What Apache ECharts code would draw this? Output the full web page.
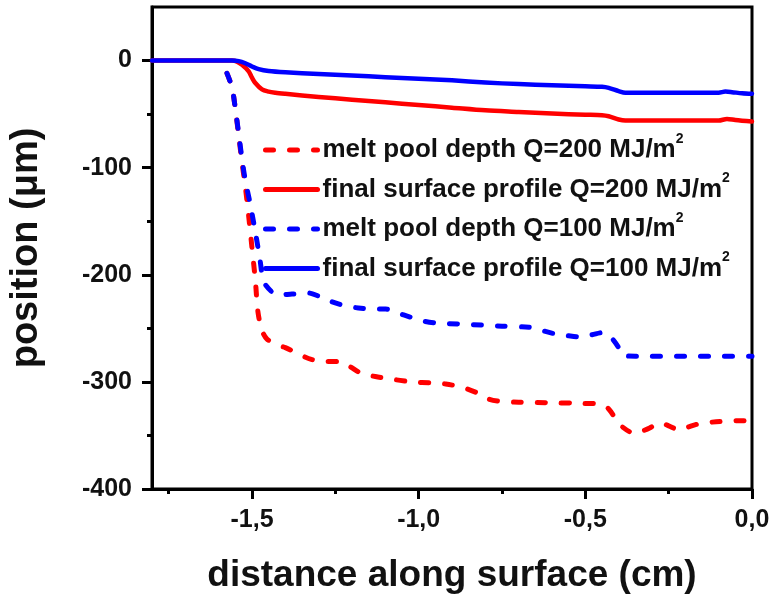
<!DOCTYPE html>
<html>
<head>
<meta charset="utf-8">
<script src="https://cdn.jsdelivr.net/npm/echarts@6/dist/echarts.min.js"></script>
<style>
  html, body { margin: 0; padding: 0; background: #fff; }
  #chart { width: 773px; height: 596px; }
</style>
</head>
<body>
<div id="chart"></div>
<script>
// Melt pool depth (dashed) and final surface profile (solid), distance in cm, position in µm
const melt200X = [-1.575, -1.56, -1.55, -1.54, -1.53, -1.52, -1.51, -1.50, -1.49, -1.482, -1.47, -1.455, -1.42, -1.40, -1.36, -1.322, -1.28, -1.241, -1.21, -1.172, -1.13, -1.09, -1.021, -0.96, -0.919, -0.87, -0.819, -0.79, -0.759, -0.70, -0.60, -0.518, -0.449, -0.428, -0.41, -0.389, -0.352, -0.33, -0.307, -0.277, -0.25, -0.217, -0.19, -0.157, -0.096, 0];
const melt200Y = [-12, -25, -45, -70, -95, -118, -145, -175, -205, -235, -252, -260, -266, -268, -274, -279, -281, -281, -285, -292, -295, -297, -300, -301, -302, -305, -311, -316, -318, -319, -319.5, -320, -321, -326, -334, -342, -348, -346, -343, -338, -341, -345, -342, -339, -337, -336];

const surf200X = [-1.8, -1.56, -1.545, -1.53, -1.51, -1.50, -1.49, -1.47, -1.45, -1.43, -1.40, -1.30, -1.20, -1.10, -1.00, -0.90, -0.80, -0.70, -0.60, -0.50, -0.45, -0.43, -0.40, -0.38, -0.20, -0.10, -0.075, -0.05, 0];
const surf200Y = [0, 0, -1, -4, -10, -16, -21, -27, -29, -30, -31, -34, -36.5, -39, -41.5, -44, -46.5, -48, -49.5, -50.5, -51, -52, -55, -56, -56, -56, -54.5, -55.5, -57];

const melt100X = [-1.575, -1.56, -1.55, -1.54, -1.53, -1.52, -1.506, -1.49, -1.476, -1.467, -1.458, -1.44, -1.422, -1.38, -1.331, -1.30, -1.262, -1.22, -1.181, -1.14, -1.099, -1.06, -1.03, -0.99, -0.949, -0.88, -0.81, -0.75, -0.669, -0.63, -0.593, -0.55, -0.518, -0.48, -0.449, -0.422, -0.40, -0.389, -0.35, -0.316, -0.2, -0.1, 0];
const melt100Y = [-12, -25, -45, -68, -92, -112, -133, -160, -186, -205, -210, -216, -219, -218, -217, -220, -225, -229, -231, -232, -232, -236, -239, -243, -245, -246, -247, -248, -249, -252, -255, -257, -258, -256, -254, -259, -268, -275, -276, -276, -276, -276, -276];

const surf100X = [-1.8, -1.56, -1.54, -1.52, -1.50, -1.48, -1.45, -1.40, -1.30, -1.20, -1.10, -1.00, -0.90, -0.80, -0.70, -0.60, -0.50, -0.45, -0.43, -0.40, -0.38, -0.30, -0.20, -0.10, -0.08, -0.06, -0.03, 0];
const surf100Y = [0, 0, -0.5, -2.5, -5.5, -8, -9.8, -11, -12.5, -14, -15.5, -17, -18.5, -20.5, -22, -23, -24, -24.5, -25.5, -28.5, -30, -30, -30, -30, -29, -29.5, -30.5, -31];

const seriesNames = [
  'melt pool depth Q=200 MJ/m²',
  'final surface profile Q=200 MJ/m²',
  'melt pool depth Q=100 MJ/m²',
  'final surface profile Q=100 MJ/m²'
];

const xMajorTicks = [-1.5, -1.0, -0.5, 0];
const xMinorTicks = [-1.75, -1.25, -0.75, -0.25];
const yMajorTicks = [-400, -300, -200, -100, 0];
const yMinorTicks = [-350, -250, -150, -50];

const RED = '#ff0000';
const BLUE = '#0000ff';
const FONT = '"Liberation Sans", Arial, sans-serif';

function zip(xs, ys) { return xs.map((x, i) => [x, ys[i]]); }

function lineSeries(name, xs, ys, color, dashed) {
  return {
    name: name,
    type: 'line',
    data: zip(xs, ys),
    xAxisIndex: 0,
    yAxisIndex: 0,
    symbol: 'none',
    smooth: 0.3,
    lineStyle: {
      color: color,
      width: dashed ? 5 : 4.5,
      type: dashed ? [8, 16] : 'solid',
      cap: 'round',
      join: 'round'
    },
    itemStyle: { color: color },
    z: 3
  };
}

const chart = echarts.init(document.getElementById('chart'), null, { renderer: 'canvas' });

const tickLabelStyle = { color: '#111', fontFamily: FONT, fontWeight: 'bold', fontSize: 25 };
const plotRect = { left: 152, right: 21, top: 7, bottom: 107, containLabel: false, outerBoundsMode: 'none' };
const tickLine = { color: '#000', width: 3 };

chart.setOption({
  animation: false,
  backgroundColor: '#fff',
  grid: [
    Object.assign({ show: true, borderColor: '#000', borderWidth: 3, backgroundColor: 'transparent' }, plotRect),
    // second grid on the same rectangle carries the short minor ticks
    Object.assign({ show: false }, plotRect)
  ],
  legend: {
    orient: 'vertical',
    left: 263,
    top: 132,
    padding: 0,
    itemWidth: 52,
    itemHeight: 14,
    itemGap: 3.5,
    data: seriesNames,
    itemStyle: { color: 'rgba(0,0,0,0)', borderWidth: 0 },
    lineStyle: { width: 5 },
    formatter: name => name.replace('²', '{sup|2}'),
    textStyle: {
      color: '#111', fontFamily: FONT, fontWeight: 'bold', fontSize: 26, lineHeight: 36,
      rich: {
        sup: { color: '#111', fontFamily: FONT, fontWeight: 'bold', fontSize: 14, lineHeight: 14, verticalAlign: 'top' }
      }
    }
  },
  xAxis: [
    {
      type: 'value', gridIndex: 0, min: -1.8, max: 0, position: 'bottom',
      name: 'distance along surface (cm)', nameLocation: 'middle', nameGap: 68,
      nameTextStyle: { color: '#111', fontFamily: FONT, fontWeight: 'bold', fontSize: 37 },
      axisLine: { show: true, onZero: false, lineStyle: { color: '#000', width: 3 } },
      axisTick: { show: true, inside: false, length: 10, customValues: xMajorTicks, lineStyle: tickLine },
      axisLabel: Object.assign({
        customValues: xMajorTicks, margin: 19,
        formatter: v => v.toFixed(1).replace('-0.0', '0.0').replace('.', ',')
      }, tickLabelStyle),
      splitLine: { show: false }
    },
    {
      type: 'value', gridIndex: 1, min: -1.8, max: 0, position: 'bottom',
      axisLine: { show: false, onZero: false },
      axisTick: { show: true, inside: false, length: 5, customValues: xMinorTicks, lineStyle: tickLine },
      axisLabel: { show: false },
      splitLine: { show: false }
    }
  ],
  yAxis: [
    {
      type: 'value', gridIndex: 0, min: -400, max: 50, position: 'left',
      name: 'position (μm)', nameLocation: 'middle', nameGap: 106, nameRotate: 90,
      nameTextStyle: { color: '#111', fontFamily: FONT, fontWeight: 'bold', fontSize: 38 },
      axisLine: { show: true, onZero: false, lineStyle: { color: '#000', width: 3 } },
      axisTick: { show: true, inside: false, length: 10, customValues: yMajorTicks, lineStyle: tickLine },
      axisLabel: Object.assign({ customValues: yMajorTicks, margin: 20 }, tickLabelStyle),
      splitLine: { show: false }
    },
    {
      type: 'value', gridIndex: 1, min: -400, max: 50, position: 'left',
      axisLine: { show: false, onZero: false },
      axisTick: { show: true, inside: false, length: 5, customValues: yMinorTicks, lineStyle: tickLine },
      axisLabel: { show: false },
      splitLine: { show: false }
    }
  ],
  series: [
    lineSeries(seriesNames[0], melt200X, melt200Y, RED, true),
    lineSeries(seriesNames[1], surf200X, surf200Y, RED, false),
    lineSeries(seriesNames[2], melt100X, melt100Y, BLUE, true),
    lineSeries(seriesNames[3], surf100X, surf100Y, BLUE, false)
  ]
});
</script>
</body>
</html>
